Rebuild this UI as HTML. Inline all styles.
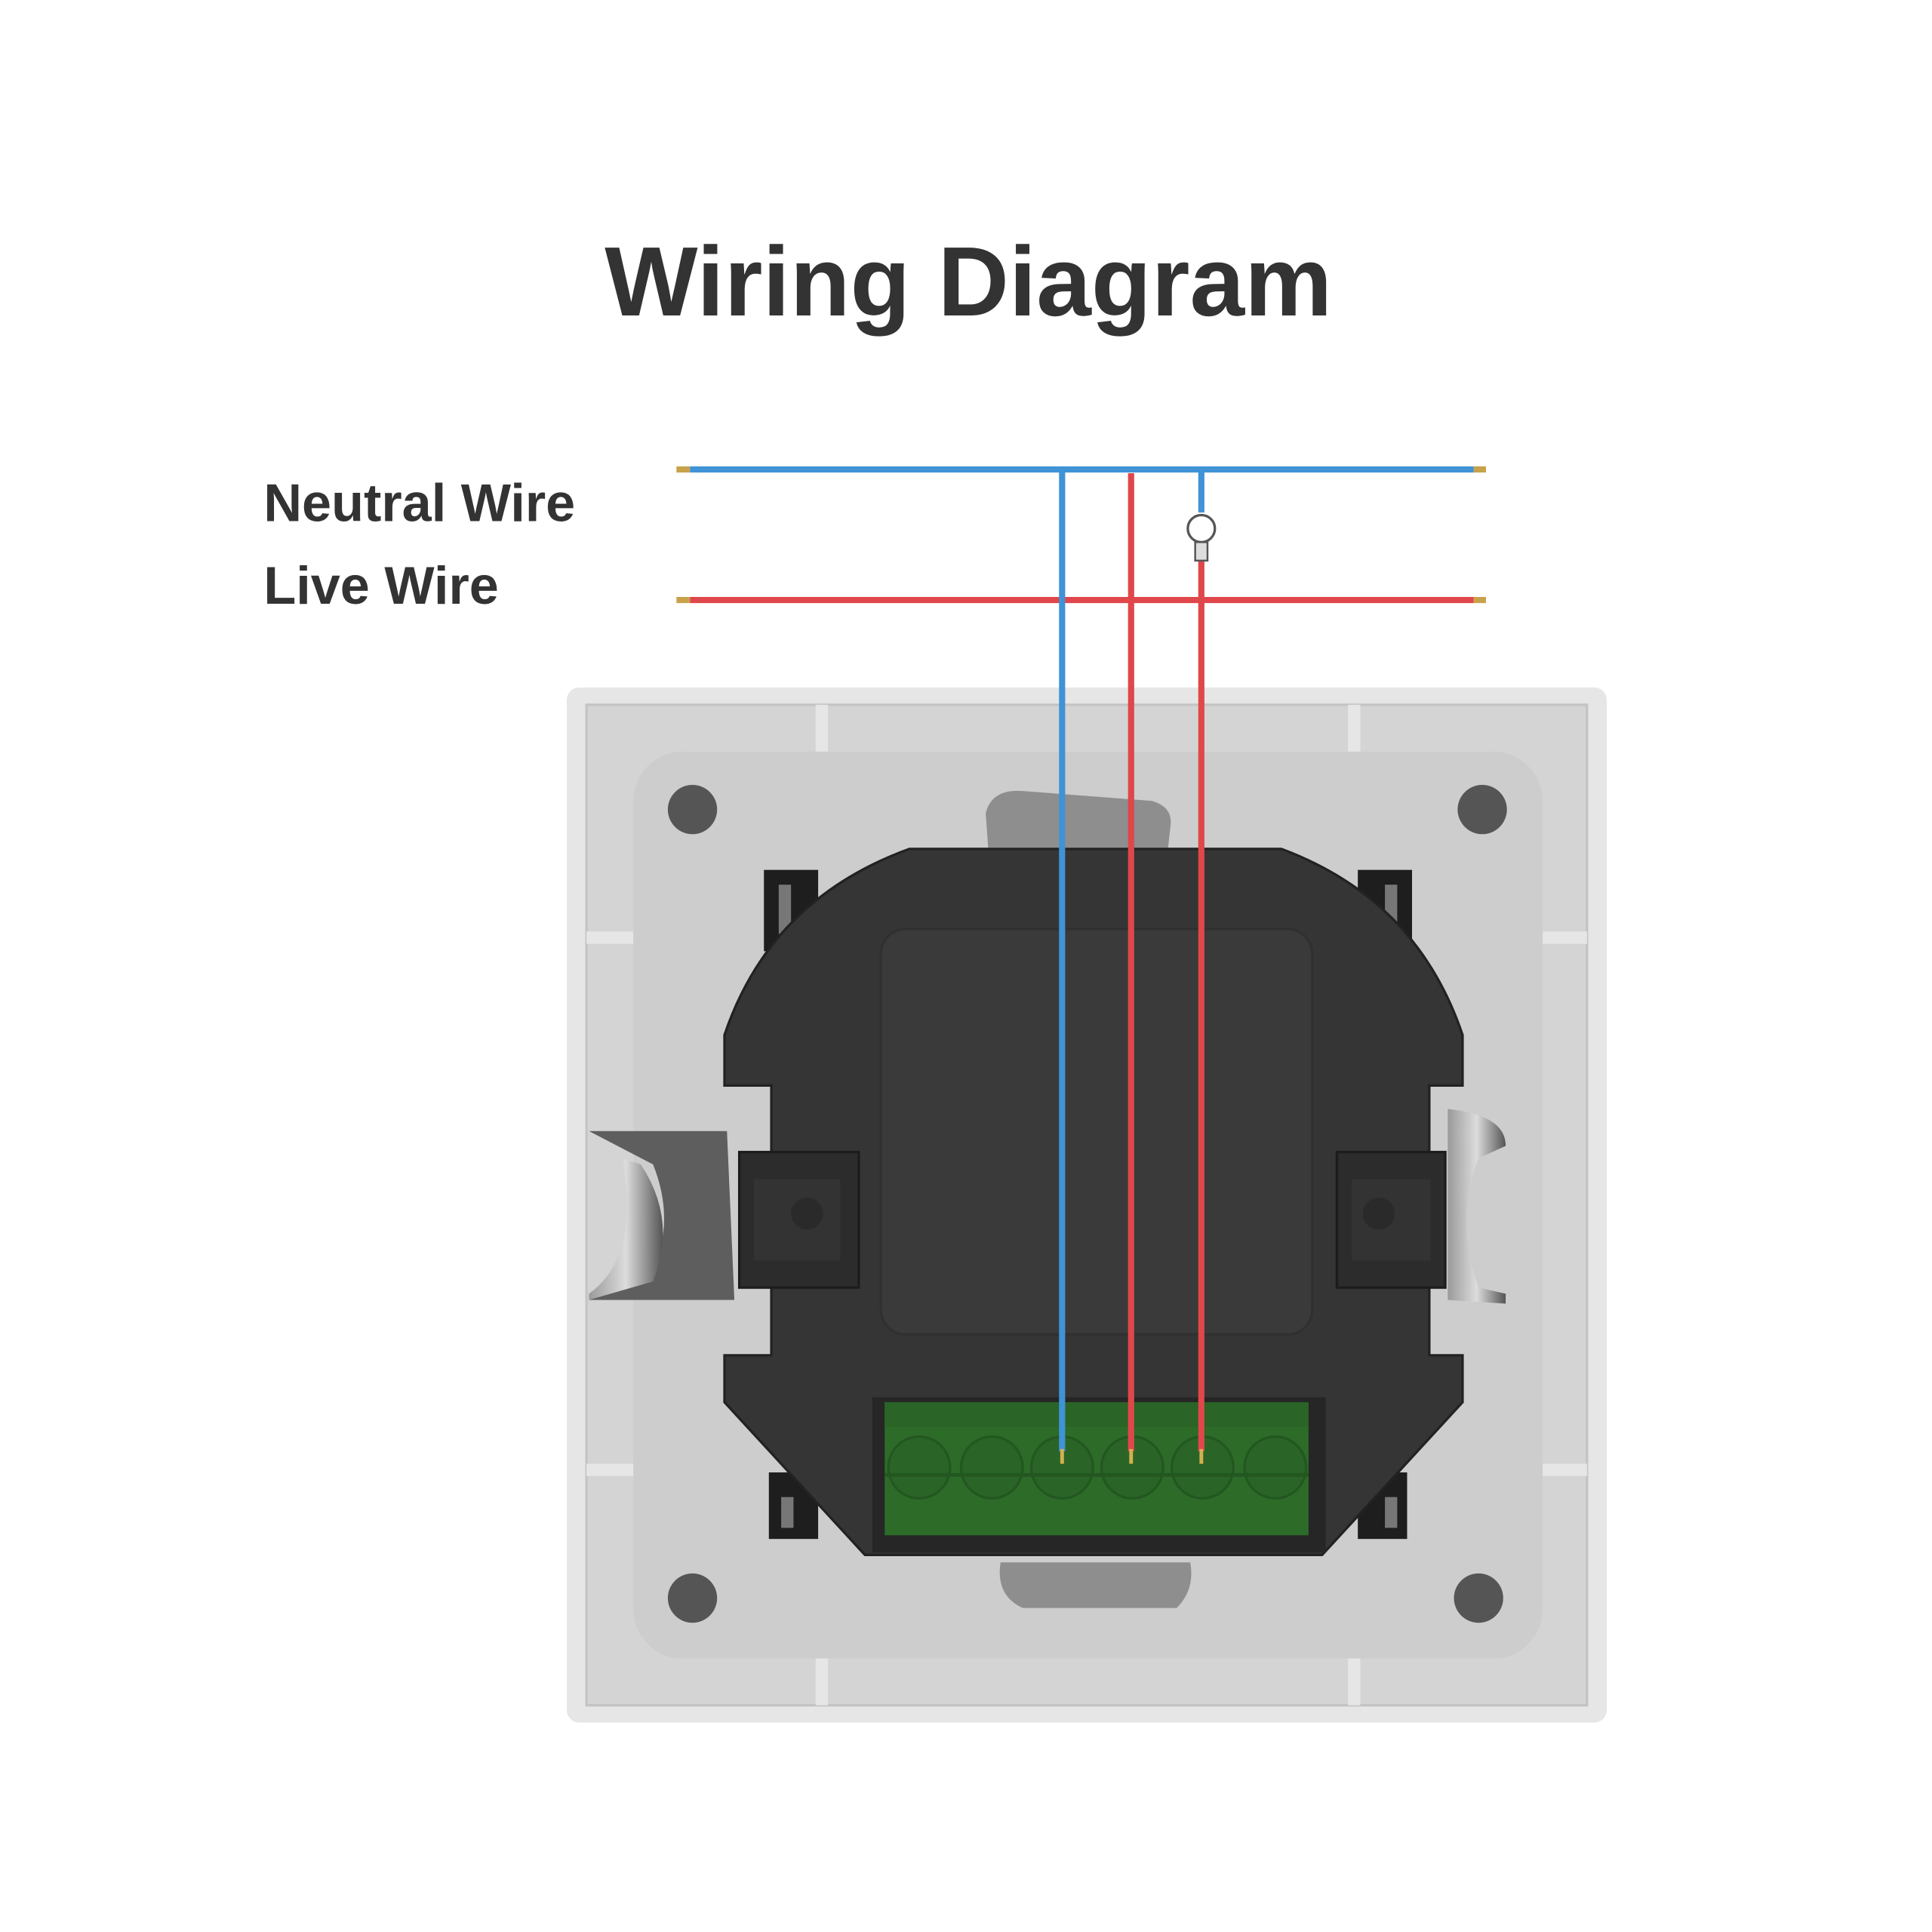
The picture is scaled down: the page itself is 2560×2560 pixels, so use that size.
<!DOCTYPE html>
<html><head><meta charset="utf-8"><style>
html,body{margin:0;padding:0;background:#fff;}
svg{display:block;}
</style></head><body>
<svg width="2560" height="2560" viewBox="0 0 1568 1568" xmlns="http://www.w3.org/2000/svg">
<defs>
<linearGradient id="met" x1="0" x2="1" y1="0" y2="0">
<stop offset="0" stop-color="#9a9a9a"/><stop offset="0.5" stop-color="#dcdcdc"/><stop offset="1" stop-color="#555"/>
</linearGradient>
</defs>
<rect width="1568" height="1568" fill="#fff"/>
<text x="786" y="256" text-anchor="middle" font-family="Liberation Sans, sans-serif" font-weight="bold" font-size="80" fill="#333">Wiring Diagram</text>
<text x="214" y="423" font-family="Liberation Sans, sans-serif" font-weight="bold" font-size="43" fill="#333">Neutral Wire</text>
<text x="214" y="490" font-family="Liberation Sans, sans-serif" font-weight="bold" font-size="43" fill="#333">Live Wire</text>

<!-- plate -->
<rect x="460" y="558" width="844" height="840" rx="10" fill="#e6e6e6"/>
<rect x="476" y="572" width="812" height="812" fill="#d4d4d4"/>
<rect x="476" y="572" width="812" height="812" fill="none" stroke="#c4c4c4" stroke-width="2"/>
<rect x="662" y="572" width="10" height="40" fill="#e6e6e6"/>
<rect x="1094" y="572" width="10" height="40" fill="#e6e6e6"/>
<rect x="662" y="1346" width="10" height="38" fill="#e6e6e6"/>
<rect x="1094" y="1346" width="10" height="38" fill="#e6e6e6"/>
<rect x="476" y="756" width="38" height="10" fill="#e6e6e6"/>
<rect x="476" y="1188" width="38" height="10" fill="#e6e6e6"/>
<rect x="1252" y="756" width="36" height="10" fill="#e6e6e6"/>
<rect x="1252" y="1188" width="36" height="10" fill="#e6e6e6"/>
<rect x="514" y="610" width="738" height="736" rx="40" fill="#cdcdcd"/>
<circle cx="562" cy="657" r="20" fill="#555"/>
<circle cx="1203" cy="657" r="20" fill="#555"/>
<circle cx="562" cy="1297" r="20" fill="#555"/>
<circle cx="1200" cy="1297" r="20" fill="#555"/>
<path d="M800 660 Q805 640 830 642 L935 650 Q952 655 950 670 L948 688 L802 688 Z" fill="#8e8e8e"/>
<path d="M812 1268 L966 1268 Q970 1290 955 1305 L830 1305 Q808 1295 812 1268 Z" fill="#8e8e8e"/>

<!-- side metal claws -->
<path d="M478 918 L590 918 L596 1055 L478 1055 L530 1030 Q548 990 530 945 Z" fill="#5e5e5e"/>
<path d="M520 945 Q550 990 530 1040 L478 1055 L478 1050 Q520 1020 505 940 Z" fill="url(#met)"/>
<path d="M1175 900 Q1222 905 1222 930 L1200 940 Q1180 990 1200 1045 L1222 1050 L1222 1058 L1175 1055 Z" fill="url(#met)"/>
<!-- corner clips -->
<rect x="620" y="706" width="44" height="66" fill="#1e1e1e"/>
<rect x="632" y="718" width="10" height="40" fill="#777"/>
<rect x="1102" y="706" width="44" height="66" fill="#1e1e1e"/>
<rect x="1124" y="718" width="10" height="40" fill="#777"/>
<rect x="624" y="1195" width="40" height="54" fill="#1e1e1e"/>
<rect x="634" y="1215" width="10" height="25" fill="#777"/>
<rect x="1102" y="1195" width="40" height="54" fill="#1e1e1e"/>
<rect x="1124" y="1215" width="10" height="25" fill="#777"/>

<!-- black module -->
<path d="M738 689 L1040 689 Q1150 730 1187 840 L1187 881 L1160 881 L1160 1100 L1187 1100 L1187 1138 L1073 1262 L702 1262 L588 1138 L588 1100 L626 1100 L626 881 L588 881 L588 840 Q625 730 738 689 Z" fill="#353535" stroke="#222" stroke-width="2"/>
<rect x="715" y="754" width="350" height="329" rx="20" fill="#3a3a3a" stroke="#303030" stroke-width="2"/>
<rect x="600" y="935" width="97" height="110" fill="#2c2c2c" stroke="#1c1c1c" stroke-width="2"/>
<rect x="612" y="957" width="70" height="66" fill="#333"/>
<circle cx="655" cy="985" r="13" fill="#2a2a2a"/>
<rect x="1085" y="935" width="88" height="110" fill="#2c2c2c" stroke="#1c1c1c" stroke-width="2"/>
<rect x="1097" y="957" width="64" height="66" fill="#333"/>
<circle cx="1119" cy="985" r="13" fill="#2a2a2a"/>

<!-- terminal block -->
<rect x="708" y="1134" width="368" height="126" fill="#262626"/>
<rect x="718" y="1138" width="344" height="108" fill="#2d6b29"/>
<rect x="718" y="1138" width="344" height="20" fill="#2a6426"/>
<g fill="#2a6527" stroke="#235720" stroke-width="2">
<circle cx="746" cy="1191" r="25"/><circle cx="805" cy="1191" r="25"/><circle cx="862" cy="1191" r="25"/>
<circle cx="919" cy="1191" r="25"/><circle cx="976" cy="1191" r="25"/><circle cx="1035" cy="1191" r="25"/>
</g>
<line x1="718" y1="1197" x2="1062" y2="1197" stroke="#235720" stroke-width="3"/>

<!-- wires -->
<g stroke-width="5" fill="none">
<line x1="549" y1="381" x2="560" y2="381" stroke="#c8a24a"/>
<line x1="1196" y1="381" x2="1206" y2="381" stroke="#c8a24a"/>
<line x1="549" y1="487" x2="560" y2="487" stroke="#c8a24a"/>
<line x1="1196" y1="487" x2="1206" y2="487" stroke="#c8a24a"/>
<line x1="560" y1="381" x2="1196" y2="381" stroke="#3f93d6"/>
<line x1="560" y1="487" x2="1196" y2="487" stroke="#e0474a"/>
<line x1="862" y1="381" x2="862" y2="1178" stroke="#3f93d6"/>
<line x1="918" y1="384" x2="918" y2="1178" stroke="#e0474a"/>
<line x1="975" y1="381" x2="975" y2="416" stroke="#3f93d6"/>
<line x1="975" y1="455" x2="975" y2="1178" stroke="#e0474a"/>
</g>
<g stroke-width="3" stroke="#d4b050">
<line x1="862" y1="1176" x2="862" y2="1188"/>
<line x1="918" y1="1176" x2="918" y2="1188"/>
<line x1="975" y1="1176" x2="975" y2="1188"/>
</g>
<!-- bulb -->
<circle cx="975" cy="429" r="11" fill="#fff" stroke="#555" stroke-width="2"/>
<rect x="970" y="440" width="10" height="15" fill="#ddd" stroke="#555" stroke-width="1.5"/>
</svg>
</body></html>
